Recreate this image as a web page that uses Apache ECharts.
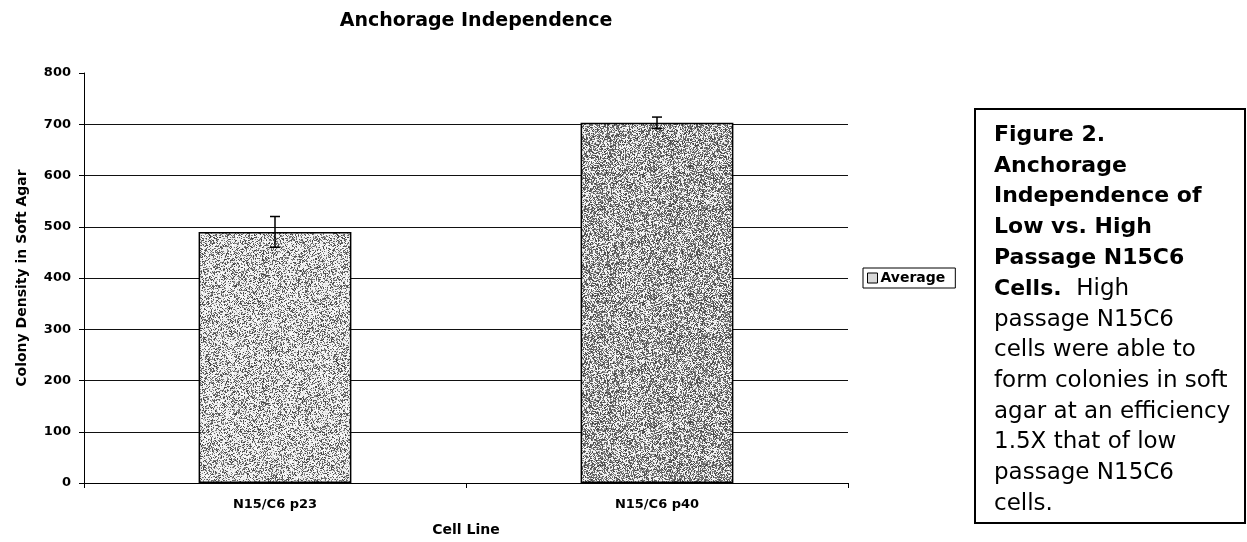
<!DOCTYPE html>
<html>
<head>
<meta charset="utf-8">
<script src="https://cdn.jsdelivr.net/npm/echarts@6/dist/echarts.min.js"></script>
<style>
html,body{margin:0;padding:0;background:#fff;}
#chart{width:1247px;height:542px;}
</style>
</head>
<body>
<div id="chart"></div>
<script>
// ---- data ----
const categories = ['N15/C6 p23', 'N15/C6 p40'];
const averages = [490, 703];
const errors = [30, 11];
const yTicks = [0, 100, 200, 300, 400, 500, 600, 700, 800];
const seriesName = 'Average';
const chartTitle = 'Anchorage Independence';
const xAxisTitle = 'Cell Line';
const yAxisTitle = 'Colony Density in Soft Agar';
const captionBold = ['Figure 2.', 'Anchorage', 'Independence of', 'Low vs. High', 'Passage N15C6', 'Cells.'];
const captionTail = '  High';
const captionNormal = ['passage N15C6', 'cells were able to', 'form colonies in soft', 'agar at an efficiency', '1.5X that of low', 'passage N15C6', 'cells.'];

const FONT = 'DejaVu Sans';

// stipple texture (style only, deterministic hash)
function stipple(prob, seed) {
  const n = 128;
  const c = document.createElement('canvas');
  c.width = n; c.height = n;
  const ctx = c.getContext('2d');
  const img = ctx.createImageData(n, n);
  for (let y = 0; y < n; y++) {
    for (let x = 0; x < n; x++) {
      let h = Math.sin(x * 12.9898 + y * 78.233 + seed * 37.719) * 43758.5453;
      h = h - Math.floor(h);
      let h2 = Math.sin(x * 93.9898 + y * 47.233 + seed * 11.3) * 24634.6345;
      h2 = h2 - Math.floor(h2);
      const v = h < prob ? Math.round(60 + h2 * 90) : Math.round(225 + h2 * 30);
      const i = (y * n + x) * 4;
      img.data[i] = v; img.data[i + 1] = v; img.data[i + 2] = v; img.data[i + 3] = 255;
    }
  }
  ctx.putImageData(img, 0, 0);
  return c;
}
const pat1 = { image: stipple(0.36, 1), repeat: 'repeat' };
const pat2 = { image: stipple(0.52, 2), repeat: 'repeat' };
const barPatterns = [pat1, pat2];

const chart = echarts.init(document.getElementById('chart'), null, { renderer: 'canvas' });

let captionText = captionBold.map((s, i) => i === captionBold.length - 1 ? '{b|' + s + '}{n|' + captionTail + '}' : '{b|' + s + '}').join('\n')
  + '\n' + captionNormal.map(s => '{n|' + s + '}').join('\n');

const option = {
  backgroundColor: '#fff',
  animation: false,
  title: {
    text: chartTitle,
    left: 476,
    textAlign: 'center',
    top: 12,
    padding: 0,
    textStyle: { fontFamily: FONT, fontWeight: 'bold', fontSize: 19, color: '#000' }
  },
  legend: {
    data: [{ name: seriesName, icon: 'rect', itemStyle: { color: '#d8d8d8', borderColor: '#000', borderWidth: 1 } }],
    left: 863,
    top: 268,
    orient: 'vertical',
    itemWidth: 10,
    itemHeight: 10,
    itemGap: 0,
    padding: [3, 10, 3, 4],
    borderColor: '#000',
    borderWidth: 1,
    textStyle: { fontFamily: FONT, fontWeight: 'bold', fontSize: 14, color: '#000', padding: [0, 0, 0, -2] }
  },
  grid: { left: 84, right: 399, top: 73, bottom: 52, containLabel: false },
  xAxis: {
    type: 'category',
    data: categories,
    name: xAxisTitle,
    nameLocation: 'middle',
    nameGap: 40,
    nameTextStyle: { fontFamily: FONT, fontWeight: 'bold', fontSize: 14, color: '#000' },
    axisLine: { lineStyle: { color: '#000', width: 1 } },
    axisTick: { show: true, length: 5, lineStyle: { color: '#000' } },
    axisLabel: { margin: 15, fontFamily: FONT, fontWeight: 'bold', fontSize: 13, color: '#000' }
  },
  yAxis: {
    type: 'value',
    min: 0,
    max: 800,
    interval: 100,
    name: yAxisTitle,
    nameLocation: 'middle',
    nameGap: 55,
    nameTextStyle: { fontFamily: FONT, fontWeight: 'bold', fontSize: 14, color: '#000' },
    axisLine: { show: true, lineStyle: { color: '#000', width: 1 } },
    axisTick: { show: true, length: 5, lineStyle: { color: '#000' } },
    axisLabel: {
      margin: 13, fontFamily: FONT, fontWeight: 'bold', fontSize: 13, color: '#000',
      formatter: v => yTicks.indexOf(v) >= 0 ? String(v) : ''
    },
    splitLine: { show: true, showMaxLine: false, lineStyle: { color: '#111', width: 1 } }
  },
  series: [
    {
      name: seriesName,
      type: 'bar',
      barCategoryGap: '60%',
      data: averages.map((v, i) => ({ value: v, itemStyle: { color: barPatterns[i] } })),
      itemStyle: { color: '#c8c8c8', borderColor: '#000', borderWidth: 1.5 },
      z: 2
    },
    {
      name: 'err',
      type: 'custom',
      z: 5,
      data: averages.map((v, i) => [i, v, errors[i]]),
      encode: { x: 0, y: 1 },
      renderItem: function (params, api) {
        const x = api.value(0), y = api.value(1), e = api.value(2);
        const top = api.coord([x, y + e]);
        const bot = api.coord([x, y - e]);
        const hw = 5;
        const st = { stroke: '#000', lineWidth: 1.5 };
        return {
          type: 'group',
          children: [
            { type: 'line', shape: { x1: top[0], y1: top[1], x2: bot[0], y2: bot[1] }, style: st },
            { type: 'line', shape: { x1: top[0] - hw, y1: top[1], x2: top[0] + hw, y2: top[1] }, style: st },
            { type: 'line', shape: { x1: bot[0] - hw, y1: bot[1], x2: bot[0] + hw, y2: bot[1] }, style: st }
          ]
        };
      }
    }
  ],
  graphic: [
    {
      type: 'rect',
      shape: { x: 975, y: 109, width: 270, height: 414 },
      style: { fill: 'none', stroke: '#000', lineWidth: 2 }
    },
    {
      type: 'text',
      x: 994,
      y: 120,
      style: {
        text: captionText,
        fill: '#000',
        rich: {
          b: { fontFamily: FONT, fontWeight: 'bold', fontSize: 22, lineHeight: 30.7, fill: '#000' },
          n: { fontFamily: FONT, fontWeight: 'normal', fontSize: 23, lineHeight: 30.7, fill: '#000' }
        }
      }
    }
  ]
};
chart.setOption(option);
</script>
</body>
</html>
